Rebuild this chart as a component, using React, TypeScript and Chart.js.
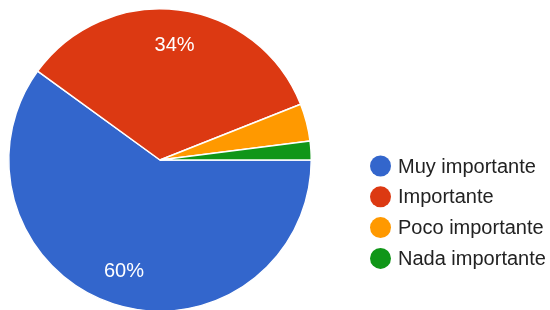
import React, { useEffect, useRef } from "react";
import { Chart, registerables } from "chart.js";

Chart.register(...registerables);

const categories = ["Muy importante", "Importante", "Poco importante", "Nada importante"];
const values = [60, 34, 4, 2];
const colors = ["#3366CC", "#DC3912", "#FF9900", "#109618"];

const FONT = "'Liberation Sans', Arial, sans-serif";

const sliceLabels = {
  id: "sliceLabels",
  afterDatasetsDraw(chart: any) {
    const ctx = chart.ctx;
    const meta = chart.getDatasetMeta(0);
    const data = chart.data.datasets[0].data as number[];
    const total = data.reduce((a: number, b: number) => a + b, 0);
    ctx.save();
    ctx.fillStyle = "#ffffff";
    ctx.font = `20px ${FONT}`;
    ctx.textAlign = "center";
    ctx.textBaseline = "middle";
    meta.data.forEach((arc: any, i: number) => {
      const pct = (data[i] / total) * 100;
      if (pct < 10) return;
      const p = arc.getProps(["x", "y", "startAngle", "endAngle", "outerRadius"], true);
      const mid = (p.startAngle + p.endAngle) / 2;
      const r = p.outerRadius * 0.77;
      ctx.fillText(`${Math.round(pct)}%`, p.x + Math.cos(mid) * r, p.y + Math.sin(mid) * r + 1);
    });
    ctx.restore();
  },
};

const customLegend = {
  id: "customLegend",
  afterDraw(chart: any) {
    const ctx = chart.ctx;
    const labels = chart.data.labels as string[];
    const bg = chart.data.datasets[0].backgroundColor as string[];
    ctx.save();
    ctx.font = `20px ${FONT}`;
    ctx.textBaseline = "middle";
    ctx.textAlign = "left";
    labels.forEach((lab, i) => {
      const y = 166 + i * 30.8;
      ctx.beginPath();
      ctx.fillStyle = bg[i];
      ctx.arc(380.5, y, 10.5, 0, Math.PI * 2);
      ctx.fill();
      ctx.fillStyle = "#222222";
      ctx.fillText(lab, 398, y + 1);
    });
    ctx.restore();
  },
};

export default function App() {
  const ref = useRef<HTMLCanvasElement | null>(null);
  useEffect(() => {
    document.body.style.margin = "0";
    const chart = new Chart(ref.current as HTMLCanvasElement, {
      type: "pie",
      data: {
        labels: categories,
        datasets: [
          {
            data: values,
            backgroundColor: colors,
            borderColor: "#ffffff",
            borderWidth: 1.5,
          },
        ],
      },
      options: {
        responsive: false,
        animation: false,
        rotation: 90,
        layout: { padding: { left: 8, right: 238, top: 8, bottom: 8 } },
        plugins: { legend: { display: false }, tooltip: { enabled: false } },
      },
      plugins: [sliceLabels, customLegend],
    });
    return () => chart.destroy();
  }, []);
  return (
    <div style={{ width: 550, height: 310, overflow: "hidden", background: "#fff" }}>
      <canvas ref={ref} width={550} height={320} style={{ display: "block" }} />
    </div>
  );
}
